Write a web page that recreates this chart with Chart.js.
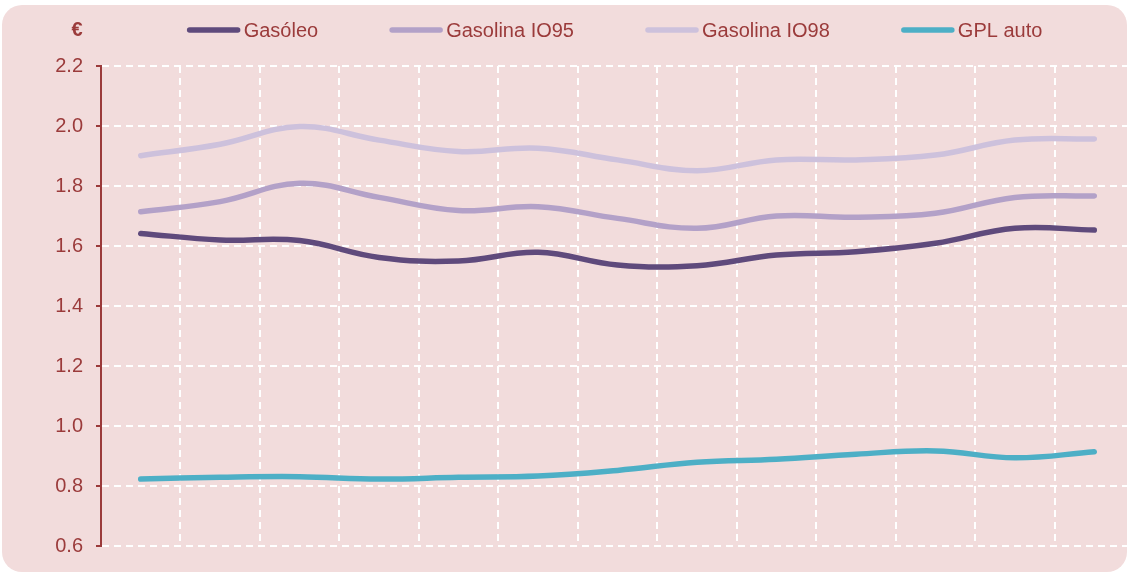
<!DOCTYPE html>
<html lang="pt">
<head>
    <meta charset="UTF-8">
    <title>Preços dos combustíveis</title>
    <script src="https://cdn.jsdelivr.net/npm/chart.js"></script>
    <style>
      html, body {
        margin: 0;
        padding: 0;
        background: #ffffff;
        overflow: hidden;
        font-family: Arial, "Liberation Sans", sans-serif;
      }
      #panel {
        position: absolute;
        left: 2px;
        top: 5px;
        width: 1125px;
        height: 567px;
        background: #f2dcdc;
        border-radius: 20px;
      }
      #wrap {
        position: absolute;
        left: 0;
        top: 0;
        width: 1136px;
        height: 573px;
      }
    </style>
</head>
<body>
    <div id="panel"></div>
    <div id="wrap"><canvas id="myChart" width="1136" height="573"></canvas></div>

    <script>
    // periods (x labels are not shown on the chart)
    const periods = ['1', '2', '3', '4', '5', '6', '7', '8', '9', '10', '11', '12', '13'];

    const gasoleo    = [1.642, 1.620, 1.618, 1.562, 1.550, 1.579, 1.537, 1.534, 1.570, 1.581, 1.609, 1.659, 1.653];
    const gasolina95 = [1.714, 1.748, 1.809, 1.762, 1.718, 1.731, 1.692, 1.659, 1.700, 1.696, 1.709, 1.762, 1.767];
    const gasolina98 = [1.901, 1.939, 1.998, 1.953, 1.915, 1.926, 1.887, 1.851, 1.887, 1.887, 1.903, 1.953, 1.957];
    const gplAuto    = [0.823, 0.829, 0.831, 0.823, 0.829, 0.833, 0.852, 0.879, 0.889, 0.906, 0.917, 0.894, 0.914];

    const seriesNames  = ['Gasóleo', 'Gasolina IO95', 'Gasolina IO98', 'GPL auto'];
    const seriesColors = ['#5f4a7c', '#b3a1c8', '#cdc1dc', '#4dafc6'];

    const textColor = '#9b3b3b';
    const fontFamily = 'Arial, "Liberation Sans", sans-serif';

    // legend + unit label drawn above the plot
    const topLegend = {
        id: 'topLegend',
        afterDraw(chart) {
            const ctx = chart.ctx;
            const area = chart.chartArea;
            const lineLen = 54, gap = 3, itemGap = 71, y = 30;
            ctx.save();
            ctx.font = '20px ' + fontFamily;
            const widths = chart.data.datasets.map(ds => ctx.measureText(ds.label).width);
            let total = widths.reduce((a, w) => a + lineLen + gap + w, 0) + itemGap * (widths.length - 1);
            let x = (area.left + area.right) / 2 - total / 2 - 3;
            chart.data.datasets.forEach((ds, i) => {
                ctx.strokeStyle = ds.borderColor;
                ctx.lineWidth = 5.5;
                ctx.lineCap = 'round';
                ctx.beginPath();
                ctx.moveTo(x + 3, y);
                ctx.lineTo(x + lineLen - 3, y);
                ctx.stroke();
                ctx.fillStyle = textColor;
                ctx.textBaseline = 'middle';
                ctx.textAlign = 'left';
                ctx.fillText(ds.label, x + lineLen + gap, y + 1);
                x += lineLen + gap + widths[i] + itemGap;
            });
            ctx.font = 'bold 20px ' + fontFamily;
            ctx.textAlign = 'center';
            ctx.fillText('€', 77, y);
            ctx.restore();
        }
    };

    const values = [gasoleo, gasolina95, gasolina98, gplAuto];

    const ctx = document.getElementById('myChart').getContext('2d');
    const myChart = new Chart(ctx, {
        type: 'line',
        data: {
            labels: periods,
            datasets: values.map((v, i) => ({
                label: seriesNames[i],
                data: v,
                borderColor: seriesColors[i],
                backgroundColor: seriesColors[i],
                borderWidth: 5.5,
                borderCapStyle: 'round',
                pointRadius: 0,
                tension: 0.4,
                fill: false
            }))
        },
        options: {
            responsive: false,
            animation: false,
            layout: {
                padding: { top: 66, left: 0, right: 2, bottom: 27 }
            },
            plugins: {
                legend: { display: false },
                tooltip: { enabled: false }
            },
            scales: {
                x: {
                    offset: true,
                    grid: {
                        offset: true,
                        color: '#ffffff',
                        lineWidth: 2,
                        drawTicks: false
                    },
                    border: { display: false, dash: [7, 5] },
                    ticks: { display: false },
                    afterFit(scale) { scale.height = 0; }
                },
                y: {
                    min: 0.6,
                    max: 2.2,
                    ticks: {
                        stepSize: 0.2,
                        color: textColor,
                        padding: 13,
                        font: { size: 20, family: fontFamily },
                        callback: v => v.toFixed(1)
                    },
                    grid: {
                        color: '#ffffff',
                        lineWidth: 2,
                        tickLength: 5,
                        tickColor: textColor,
                        tickWidth: 2
                    },
                    border: { display: true, color: textColor, width: 2, dash: [7, 5] },
                    afterFit(scale) { scale.width = 101; }
                }
            }
        },
        plugins: [topLegend]
    });
    </script>
</body>
</html>
